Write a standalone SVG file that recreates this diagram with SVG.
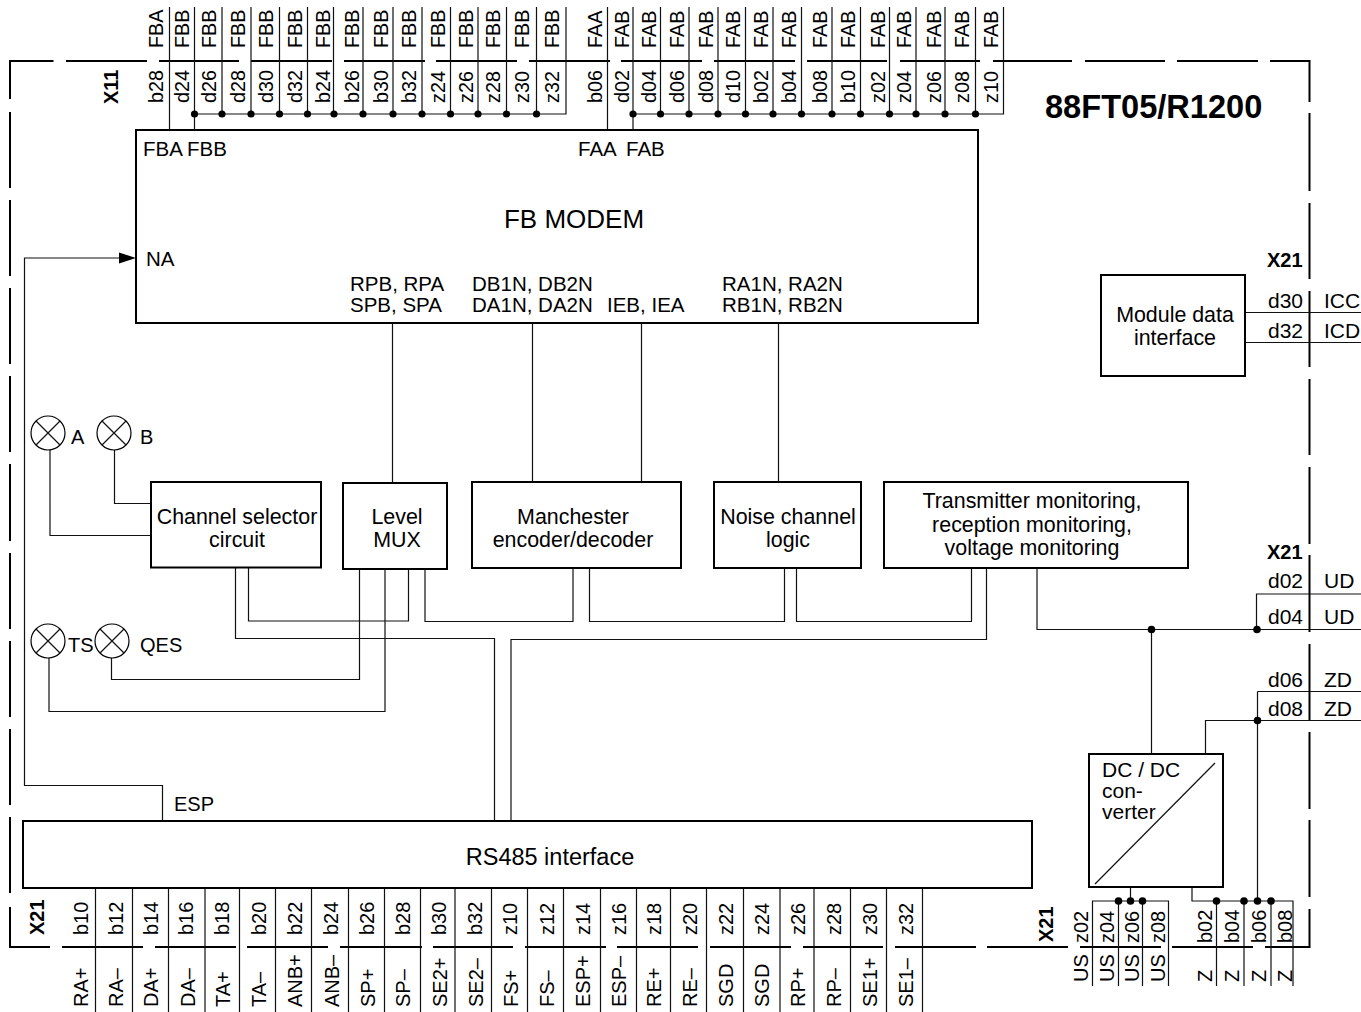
<svg xmlns="http://www.w3.org/2000/svg" width="1361" height="1012" viewBox="0 0 1361 1012">
<style>
text{font-family:"Liberation Sans",Arial,sans-serif;font-size:20px;fill:#000}
.b{font-weight:bold}
.m{text-anchor:middle}
.box{fill:#fff;stroke:#000;stroke-width:2}
.l{fill:none;stroke:#111;stroke-width:1.2}
.f{fill:none;stroke:#000;stroke-width:2}
.d{fill:#000}
.lamp{fill:#fff;stroke:#000;stroke-width:1.2}
#fb-modem text{font-size:20.500px}
#channel-selector text,#level-mux text,#manchester text,#noise-channel text,#monitoring text,#module-data-interface text{font-size:21.400px}
#dc-dc text{font-size:21px}
#rs485 text{font-size:23.500px}
.r{font-size:21px}
#top-labels text{font-size:19.800px}
</style>
<defs>
<g id="lampx"><circle r="17" class="lamp"/><path d="M-12-12L12 12M-12 12L12-12" class="l"/></g>
</defs>
<g id="frame">
<path class="f" d="M10 99V61H53.5M66 61H147M159 61H239M251 61H332M344 61H425M436 61H517M529 61H610M621 61H702M714 61H795M807 61H887M900 61H980M993 61H1072M1085 61H1165M1177 61H1258M1270 61H1309.5V102M1309.5 113V191M1309.5 203V279M1309.5 291V367M1309.5 379V455M1309.5 467V544M1309.5 555V632M1309.5 644V721M1309.5 732V809M1309.5 820V897M1309.5 909V947H1265M1253 947H1172M1161 947H1080M1068 947H987M976 947H895M883 947H803M791 947H710M698 947H617M606 947H525M513 947H433M422 947H340M328 947H247M236 947H155M143 947H62M50 947H10V907M10 893V817M10 805V729M10 717V641M10 629V553M10 541V464M10 452V376M10 364V288M10 276V200M10 188V112"/>
</g>
<g id="connectors">
<path class="l" d="M169.5 7V130M194.5 7V130M222 7V114M251 7V114M279.5 7V114M307.5 7V114M333.5 7V114M363 7V114M393 7V114M422 7V114M450.5 7V114M478 7V114M506.5 7V114M536.5 7V114M566 7V114H194.5"/>
<path class="l" d="M607.5 7V130M633 7V130M660.5 7V114M689 7V114M718 7V114M745.5 7V114M773 7V114M801.5 7V114M832 7V114M860.5 7V114M889.5 7V114M916 7V114M945 7V114M975.5 7V114M1003.5 7V114H633"/>
<path class="l" d="M392.5 323V483M532.5 323V482M641.5 323V482M778.5 323V482"/>
<path class="l" d="M124 258H24.5V785.5H162.5V821"/>
<path class="l" d="M50 449V535.5H151M114.5 449V503.5H151"/>
<path class="l" d="M235.5 568V638.5H494.5V821M248.5 568V621H408.5V569M425 569V621.5H573V568M589.5 568V621.5H784.5V568M796.5 568V621.5H971.5V568M986.5 568V639.5H511V821"/>
<path class="l" d="M359.5 569V679.5H111.5V658M385 569V711.5H49V658"/>
<path class="l" d="M1037 568V629.5H1361M1256.5 629.5V594H1361M1151.5 629.5V754M1205.5 754V720.5H1361M1257.5 691.5V901M1257.5 691.5H1361"/>
<path class="l" d="M1245 312.5H1361M1245 342.5H1361"/>
<path class="l" d="M95.5 888V1012M132.5 888V1012M168.5 888V1012M205 888V1012M239.5 888V1012M275.5 888V1012M311.5 888V1012M348.5 888V1012M384.5 888V1012M420.5 888V1012M455 888V1012M491.5 888V1012M527.5 888V1012M563.5 888V1012M600.5 888V1012M636.5 888V1012M670.5 888V1012M706.5 888V1012M743.5 888V1012M780 888V1012M814 888V1012M850.5 888V1012M886.5 888V1012M922.5 888V1012"/>
<path class="l" d="M1130.5 887V901M1092.5 986V901H1168.5V986M1118.5 901V986M1142.5 901V986M1192 887V901H1293V986M1216.5 901V986M1244 901V986M1271 901V986"/>
<path d="M136 258L119 252.5V263.5Z" class="d"/>
<g class="d">
<circle cx="194.5" cy="114" r="3.6"/><circle cx="222" cy="114" r="3.6"/><circle cx="251" cy="114" r="3.6"/><circle cx="279.5" cy="114" r="3.6"/><circle cx="307.5" cy="114" r="3.6"/><circle cx="334" cy="114" r="3.6"/><circle cx="363" cy="114" r="3.6"/><circle cx="393" cy="114" r="3.6"/><circle cx="422" cy="114" r="3.6"/><circle cx="450.5" cy="114" r="3.6"/><circle cx="478" cy="114" r="3.6"/><circle cx="506.5" cy="114" r="3.6"/><circle cx="536.5" cy="114" r="3.6"/>
<circle cx="633" cy="114" r="3.6"/><circle cx="660.5" cy="114" r="3.6"/><circle cx="689" cy="114" r="3.6"/><circle cx="718" cy="114" r="3.6"/><circle cx="745.5" cy="114" r="3.6"/><circle cx="773" cy="114" r="3.6"/><circle cx="801.5" cy="114" r="3.6"/><circle cx="832" cy="114" r="3.6"/><circle cx="860.5" cy="114" r="3.6"/><circle cx="889.5" cy="114" r="3.6"/><circle cx="916" cy="114" r="3.6"/><circle cx="945" cy="114" r="3.6"/><circle cx="975.5" cy="114" r="3.6"/>
<circle cx="1151.5" cy="629.5" r="3.8"/><circle cx="1257" cy="629.5" r="3.8"/><circle cx="1257.5" cy="720.5" r="3.8"/>
<circle cx="1118.5" cy="901" r="3.8"/><circle cx="1130.5" cy="901" r="3.8"/><circle cx="1142.5" cy="901" r="3.8"/><circle cx="1216.5" cy="901" r="3.8"/><circle cx="1244" cy="901" r="3.8"/><circle cx="1257.5" cy="901" r="3.8"/><circle cx="1271" cy="901" r="3.8"/>
</g>
</g>
<g id="fb-modem">
<rect x="136" y="130" width="842" height="193" class="box"/>
<text x="143" y="156">FBA</text><text x="187" y="156">FBB</text><text x="578" y="156">FAA</text><text x="626" y="156">FAB</text>
<text x="574" y="228" class="m" style="font-size:26px">FB MODEM</text>
<text x="146" y="266">NA</text>
<text x="350" y="291">RPB, RPA</text><text x="350" y="312">SPB, SPA</text>
<text x="472" y="291">DB1N, DB2N</text><text x="472" y="312">DA1N, DA2N</text>
<text x="607" y="312">IEB, IEA</text>
<text x="722" y="291">RA1N, RA2N</text><text x="722" y="312">RB1N, RB2N</text>
</g>
<g id="module-data-interface">
<rect x="1101" y="275" width="144" height="101" class="box"/>
<text x="1175" y="322" class="m">Module data</text><text x="1175" y="345" class="m">interface</text>
</g>
<g id="channel-selector">
<rect x="151" y="482" width="170" height="85.500" class="box"/>
<text x="237" y="524" class="m">Channel selector</text><text x="237" y="547" class="m">circuit</text>
</g>
<g id="level-mux">
<rect x="343" y="483" width="104" height="86" class="box"/>
<text x="397" y="524" class="m">Level</text><text x="397" y="547" class="m">MUX</text>
</g>
<g id="manchester">
<rect x="472" y="482" width="209" height="86" class="box"/>
<text x="573" y="524" class="m">Manchester</text><text x="573" y="547" class="m">encoder/decoder</text>
</g>
<g id="noise-channel">
<rect x="714" y="482" width="147" height="86" class="box"/>
<text x="788" y="524" class="m">Noise channel</text><text x="788" y="547" class="m">logic</text>
</g>
<g id="monitoring">
<rect x="884" y="482" width="304" height="86" class="box"/>
<text x="1032" y="508" class="m">Transmitter monitoring,</text><text x="1032" y="532" class="m">reception monitoring,</text><text x="1032" y="555" class="m">voltage monitoring</text>
</g>
<g id="rs485">
<rect x="23" y="821" width="1009" height="67" class="box"/>
<text x="550" y="865" class="m">RS485 interface</text>
</g>
<g id="dc-dc">
<rect x="1089" y="754" width="134" height="133" class="box"/>
<path d="M1095 884L1215 763" class="l"/>
<text x="1102" y="777">DC / DC</text><text x="1102" y="798">con-</text><text x="1102" y="819">verter</text>
</g>
<g id="lamp-a"><use href="#lampx" x="48" y="433"/><text x="71" y="444">A</text></g>
<g id="lamp-b"><use href="#lampx" x="114" y="433"/><text x="140" y="444">B</text></g>
<g id="lamp-ts"><use href="#lampx" x="48" y="641"/><text x="68" y="652">TS</text></g>
<g id="lamp-qes"><use href="#lampx" x="112" y="641"/><text x="140" y="652">QES</text></g>
<g id="labels">
<text x="1045" y="118" class="b" style="font-size:32.600px">88FT05/R1200</text>
<text class="b" transform="translate(118 104) rotate(-90)">X11</text>
<text class="b" transform="translate(44 935) rotate(-90)">X21</text>
<text class="b" transform="translate(1053 942) rotate(-90)">X21</text>
<text class="b" x="1267" y="267">X21</text><text class="b" x="1267" y="559">X21</text>
<text class="r" x="1268" y="308">d30</text><text class="r" x="1324" y="308">ICC</text>
<text class="r" x="1268" y="338">d32</text><text class="r" x="1324" y="338">ICD</text>
<text class="r" x="1268" y="588">d02</text><text class="r" x="1324" y="588">UD</text>
<text class="r" x="1268" y="624">d04</text><text class="r" x="1324" y="624">UD</text>
<text class="r" x="1268" y="687">d06</text><text class="r" x="1324" y="687">ZD</text>
<text class="r" x="1268" y="716">d08</text><text class="r" x="1324" y="716">ZD</text>
<text x="174" y="811">ESP</text>
<g id="top-labels">
<text transform="translate(162.500 48) rotate(-90)">FBA</text><text transform="translate(162.500 103) rotate(-90)">b28</text>
<text transform="translate(189 48) rotate(-90)">FBB</text><text transform="translate(189 103) rotate(-90)">d24</text>
<text transform="translate(216 48) rotate(-90)">FBB</text><text transform="translate(216 103) rotate(-90)">d26</text>
<text transform="translate(244.500 48) rotate(-90)">FBB</text><text transform="translate(244.500 103) rotate(-90)">d28</text>
<text transform="translate(273 48) rotate(-90)">FBB</text><text transform="translate(273 103) rotate(-90)">d30</text>
<text transform="translate(302 48) rotate(-90)">FBB</text><text transform="translate(302 103) rotate(-90)">d32</text>
<text transform="translate(330 48) rotate(-90)">FBB</text><text transform="translate(330 103) rotate(-90)">b24</text>
<text transform="translate(359 48) rotate(-90)">FBB</text><text transform="translate(359 103) rotate(-90)">b26</text>
<text transform="translate(387.500 48) rotate(-90)">FBB</text><text transform="translate(387.500 103) rotate(-90)">b30</text>
<text transform="translate(416 48) rotate(-90)">FBB</text><text transform="translate(416 103) rotate(-90)">b32</text>
<text transform="translate(444.500 48) rotate(-90)">FBB</text><text transform="translate(444.500 103) rotate(-90)">z24</text>
<text transform="translate(473 48) rotate(-90)">FBB</text><text transform="translate(473 103) rotate(-90)">z26</text>
<text transform="translate(500 48) rotate(-90)">FBB</text><text transform="translate(500 103) rotate(-90)">z28</text>
<text transform="translate(528.500 48) rotate(-90)">FBB</text><text transform="translate(528.500 103) rotate(-90)">z30</text>
<text transform="translate(559 48) rotate(-90)">FBB</text><text transform="translate(559 103) rotate(-90)">z32</text>
<text transform="translate(602 48) rotate(-90)">FAA</text><text transform="translate(602 103) rotate(-90)">b06</text>
<text transform="translate(628.500 48) rotate(-90)">FAB</text><text transform="translate(628.500 103) rotate(-90)">d02</text>
<text transform="translate(655.500 48) rotate(-90)">FAB</text><text transform="translate(655.500 103) rotate(-90)">d04</text>
<text transform="translate(684 48) rotate(-90)">FAB</text><text transform="translate(684 103) rotate(-90)">d06</text>
<text transform="translate(713 48) rotate(-90)">FAB</text><text transform="translate(713 103) rotate(-90)">d08</text>
<text transform="translate(740 48) rotate(-90)">FAB</text><text transform="translate(740 103) rotate(-90)">d10</text>
<text transform="translate(768 48) rotate(-90)">FAB</text><text transform="translate(768 103) rotate(-90)">b02</text>
<text transform="translate(796 48) rotate(-90)">FAB</text><text transform="translate(796 103) rotate(-90)">b04</text>
<text transform="translate(827 48) rotate(-90)">FAB</text><text transform="translate(827 103) rotate(-90)">b08</text>
<text transform="translate(855 48) rotate(-90)">FAB</text><text transform="translate(855 103) rotate(-90)">b10</text>
<text transform="translate(884.500 48) rotate(-90)">FAB</text><text transform="translate(884.500 103) rotate(-90)">z02</text>
<text transform="translate(911 48) rotate(-90)">FAB</text><text transform="translate(911 103) rotate(-90)">z04</text>
<text transform="translate(940.500 48) rotate(-90)">FAB</text><text transform="translate(940.500 103) rotate(-90)">z06</text>
<text transform="translate(969 48) rotate(-90)">FAB</text><text transform="translate(969 103) rotate(-90)">z08</text>
<text transform="translate(998 48) rotate(-90)">FAB</text><text transform="translate(998 103) rotate(-90)">z10</text>
</g>
<g id="bottom-labels">
<text transform="translate(87.500 935) rotate(-90)">b10</text><text transform="translate(87.500 1007) rotate(-90)">RA+</text>
<text transform="translate(123 935) rotate(-90)">b12</text><text transform="translate(123 1007) rotate(-90)">RA–</text>
<text transform="translate(157.500 935) rotate(-90)">b14</text><text transform="translate(157.500 1007) rotate(-90)">DA+</text>
<text transform="translate(193 935) rotate(-90)">b16</text><text transform="translate(195 1007) rotate(-90)">DA–</text>
<text transform="translate(229 935) rotate(-90)">b18</text><text transform="translate(230 1007) rotate(-90)">TA+</text>
<text transform="translate(265.500 935) rotate(-90)">b20</text><text transform="translate(265.500 1007) rotate(-90)">TA–</text>
<text transform="translate(301.500 935) rotate(-90)">b22</text><text transform="translate(301.500 1007) rotate(-90)">ANB+</text>
<text transform="translate(337.500 935) rotate(-90)">b24</text><text transform="translate(339 1007) rotate(-90)">ANB–</text>
<text transform="translate(373.500 935) rotate(-90)">b26</text><text transform="translate(375 1007) rotate(-90)">SP+</text>
<text transform="translate(410 935) rotate(-90)">b28</text><text transform="translate(410 1007) rotate(-90)">SP–</text>
<text transform="translate(445.500 935) rotate(-90)">b30</text><text transform="translate(447 1007) rotate(-90)">SE2+</text>
<text transform="translate(481.500 935) rotate(-90)">b32</text><text transform="translate(483 1007) rotate(-90)">SE2–</text>
<text transform="translate(517 935) rotate(-90)">z10</text><text transform="translate(518 1007) rotate(-90)">FS+</text>
<text transform="translate(554 935) rotate(-90)">z12</text><text transform="translate(554 1007) rotate(-90)">FS–</text>
<text transform="translate(590 935) rotate(-90)">z14</text><text transform="translate(590 1007) rotate(-90)">ESP+</text>
<text transform="translate(626 935) rotate(-90)">z16</text><text transform="translate(626 1007) rotate(-90)">ESP–</text>
<text transform="translate(660.500 935) rotate(-90)">z18</text><text transform="translate(661 1007) rotate(-90)">RE+</text>
<text transform="translate(696.500 935) rotate(-90)">z20</text><text transform="translate(696.500 1007) rotate(-90)">RE–</text>
<text transform="translate(732.500 935) rotate(-90)">z22</text><text transform="translate(733 1007) rotate(-90)">SGD</text>
<text transform="translate(769 935) rotate(-90)">z24</text><text transform="translate(769 1007) rotate(-90)">SGD</text>
<text transform="translate(805 935) rotate(-90)">z26</text><text transform="translate(805 1007) rotate(-90)">RP+</text>
<text transform="translate(840.500 935) rotate(-90)">z28</text><text transform="translate(840.500 1007) rotate(-90)">RP–</text>
<text transform="translate(876.500 935) rotate(-90)">z30</text><text transform="translate(877 1007) rotate(-90)">SE1+</text>
<text transform="translate(912.500 935) rotate(-90)">z32</text><text transform="translate(913 1007) rotate(-90)">SE1–</text>
<text transform="translate(1088 943) rotate(-90)">z02</text><text transform="translate(1088 982) rotate(-90)">US</text>
<text transform="translate(1114 943) rotate(-90)">z04</text><text transform="translate(1114 982) rotate(-90)">US</text>
<text transform="translate(1139 943) rotate(-90)">z06</text><text transform="translate(1139 982) rotate(-90)">US</text>
<text transform="translate(1165 943) rotate(-90)">z08</text><text transform="translate(1165 982) rotate(-90)">US</text>
<text transform="translate(1212 943) rotate(-90)">b02</text><text transform="translate(1212 982) rotate(-90)">Z</text>
<text transform="translate(1239 943) rotate(-90)">b04</text><text transform="translate(1239 982) rotate(-90)">Z</text>
<text transform="translate(1266 943) rotate(-90)">b06</text><text transform="translate(1266 982) rotate(-90)">Z</text>
<text transform="translate(1292 943) rotate(-90)">b08</text><text transform="translate(1292 982) rotate(-90)">Z</text>
</g>
</g>
</svg>
